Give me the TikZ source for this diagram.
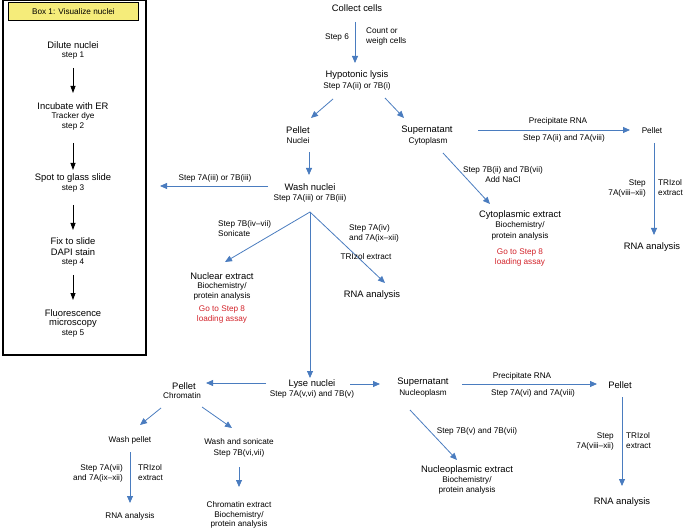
\documentclass[tikz,border=0pt]{standalone}
\usepackage{fontspec}
\setmainfont{Liberation Sans}
\usetikzlibrary{arrows.meta}
\definecolor{ab}{HTML}{4A7CBF}
\definecolor{rd}{HTML}{D2232A}
\definecolor{yl}{HTML}{F5EC7A}
\begin{document}
\begin{tikzpicture}[x=1pt,y=-1pt,
  bg/.style={font=\fontsize{9.4}{10}\selectfont,inner sep=0pt},
  sm/.style={font=\fontsize{8.2}{10}\selectfont,inner sep=0pt},
  smr/.style={sm,text=rd},
  ar/.style={draw=ab,line width=0.8pt,-{Triangle[length=7pt,width=6pt]}},
  ka/.style={draw=black,line width=0.8pt,-{Triangle[length=7pt,width=5pt]}}]
\useasboundingbox (0,0) rectangle (685,529);
% Box 1
\draw[line width=1.2pt] (3,0) rectangle (146,355);
\node[draw,line width=0.8pt,fill=yl,minimum width=130pt,minimum height=18pt,inner sep=0pt,anchor=north west] (ttl) at (8,2) {};
\node[sm] (ttlt) at (ttl.center) {Box 1: Visualize nuclei};
\node[bg] (d1) at (73,45) {Dilute nuclei};
\node[sm] (d1s) at (73,56) {step 1};
\node[bg] (d2) at (73,106) {Incubate with ER};
\node[sm] (d2a) at (73,116) {Tracker dye};
\node[sm] (d2s) at (73,126) {step 2};
\node[bg] (d3) at (73,178) {Spot to glass slide};
\node[sm] (d3s) at (73,188) {step 3};
\node[bg] (d4) at (73,241) {Fix to slide};
\node[bg] (d4a) at (73,252) {DAPI stain};
\node[sm] (d4s) at (73,263) {step 4};
\node[bg] (d5) at (73,313) {Fluorescence};
\node[bg] (d5a) at (73,323) {microscopy};
\node[sm] (d5s) at (73,334) {step 5};
\draw[ka] (73,68) -- (73,93);
\draw[ka] (73,143) -- (73,170);
\draw[ka] (73,205) -- (73,230);
\draw[ka] (73,275) -- (73,300);
% main
\node[bg] (col) at (357,8) {Collect cells};
\node[sm] at (337,37) {Step 6};
\node[sm,align=left,anchor=west] at (366,36) {Count or\\weigh cells};
\node[bg] (hyp) at (357,75) {Hypotonic lysis};
\node[sm] (hyps) at (357,86) {Step 7A(ii) or 7B(i)};
\draw[ar] (355,22) -- (355,63);
\node[bg] (pel) at (298,130) {Pellet};
\node[sm] (pels) at (298,141) {Nuclei};
\node[bg] (sup) at (427,130) {Supernatant};
\node[sm] (sups) at (428,141) {Cytoplasm};
\draw[ar] (333,99) -- (311,118);
\draw[ar] (385,98) -- (404,118);
\node[bg] (wn) at (310,187) {Wash nuclei};
\node[sm] (wns) at (310,198) {Step 7A(iii) or 7B(iii)};
\draw[ar] (309,152) -- (309,175);
\node[sm] at (215,178) {Step 7A(iii) or 7B(iii)};
\draw[ar] (268,186) -- (160,186);
% cytoplasm RNA
\node[sm] at (558,121) {Precipitate RNA};
\node[sm] at (564,138) {Step 7A(ii) and 7A(viii)};
\node[sm] (p2) at (652,131) {Pellet};
\draw[ar] (478,130) -- (630,130);
\node[sm,align=right,anchor=east] at (646,188) {Step\\7A(viii--xii)};
\node[sm,align=left,anchor=west] at (658,188) {TRIzol\\extract};
\node[bg] (r2) at (652,247) {RNA analysis};
\draw[ar] (654,143) -- (654,235);
% cytoplasmic extract
\node[sm] at (503,170) {Step 7B(ii) and 7B(vii)};
\node[sm] at (503,180) {Add NaCl};
\draw[ar] (443,153) -- (490,204);
\node[bg] (ce) at (520,215) {Cytoplasmic extract};
\node[sm] at (520,225) {Biochemistry/};
\node[sm] at (520,236) {protein analysis};
\node[smr] at (520,252) {Go to Step 8};
\node[smr] at (520,262) {loading assay};
% fan
\coordinate (fan) at (310,212);
\draw[ar] (fan) -- (225,262);
\draw[ar] (fan) -- (385,283);
\draw[ar] (fan) -- (310,378);
\node[sm,align=left,anchor=west] at (218,229) {Step 7B(iv--vii)\\Sonicate};
\node[sm,align=left,anchor=west] at (349,233) {Step 7A(iv)\\and 7A(ix--xii)};
\node[sm] at (366,257) {TRIzol extract};
\node[bg] (ne) at (222,276) {Nuclear extract};
\node[sm] at (222,286) {Biochemistry/};
\node[sm] at (222,296) {protein analysis};
\node[smr] at (222,309) {Go to Step 8};
\node[smr] at (222,319) {loading assay};
\node[bg] (r1) at (372,295) {RNA analysis};
% lyse
\node[bg] (ly) at (312,384) {Lyse nuclei};
\node[sm] at (312,394) {Step 7A(v,vi) and 7B(v)};
\draw[ar] (266,383) -- (206,383);
\draw[ar] (350,384) -- (380,384);
\node[bg] (pc) at (184,386) {Pellet};
\node[sm] at (182,396) {Chromatin};
\node[bg] (sn) at (423,382) {Supernatant};
\node[sm] at (423,393) {Nucleoplasm};
\node[sm] at (522,376) {Precipitate RNA};
\node[sm] at (533,393) {Step 7A(vi) and 7A(viii)};
\node[bg] (p3) at (620,385) {Pellet};
\draw[ar] (462,384) -- (597,384);
\node[sm,align=right,anchor=east] at (614,441) {Step\\7A(viii--xii)};
\node[sm,align=left,anchor=west] at (626,441) {TRIzol\\extract};
\draw[ar] (622,397) -- (622,486);
\node[bg] (r3) at (622,502) {RNA analysis};
\node[sm] at (477,431) {Step 7B(v) and 7B(vii)};
\draw[ar] (410,410) -- (457,460);
\node[bg] (nx) at (467,470) {Nucleoplasmic extract};
\node[sm] at (467,480) {Biochemistry/};
\node[sm] at (467,490) {protein analysis};
% chromatin
\draw[ar] (161,408) -- (140,425);
\draw[ar] (202,407) -- (232,428);
\node[sm] (wp) at (130,440) {Wash pellet};
\node[sm] (ws) at (239,442) {Wash and sonicate};
\node[sm] at (239,453) {Step 7B(vi,vii)};
\node[sm,align=right,anchor=east] at (123,473) {Step 7A(vii)\\and 7A(ix--xii)};
\node[sm,align=left,anchor=west] at (138,473) {TRIzol\\extract};
\draw[ar] (130,452) -- (130,503);
\node[sm] (r4) at (130,516) {RNA analysis};
\draw[ar] (239,467) -- (239,487);
\node[sm] (cx) at (239,505) {Chromatin extract};
\node[sm] at (239,515) {Biochemistry/};
\node[sm] at (239,524) {protein analysis};
\end{tikzpicture}
\end{document}
